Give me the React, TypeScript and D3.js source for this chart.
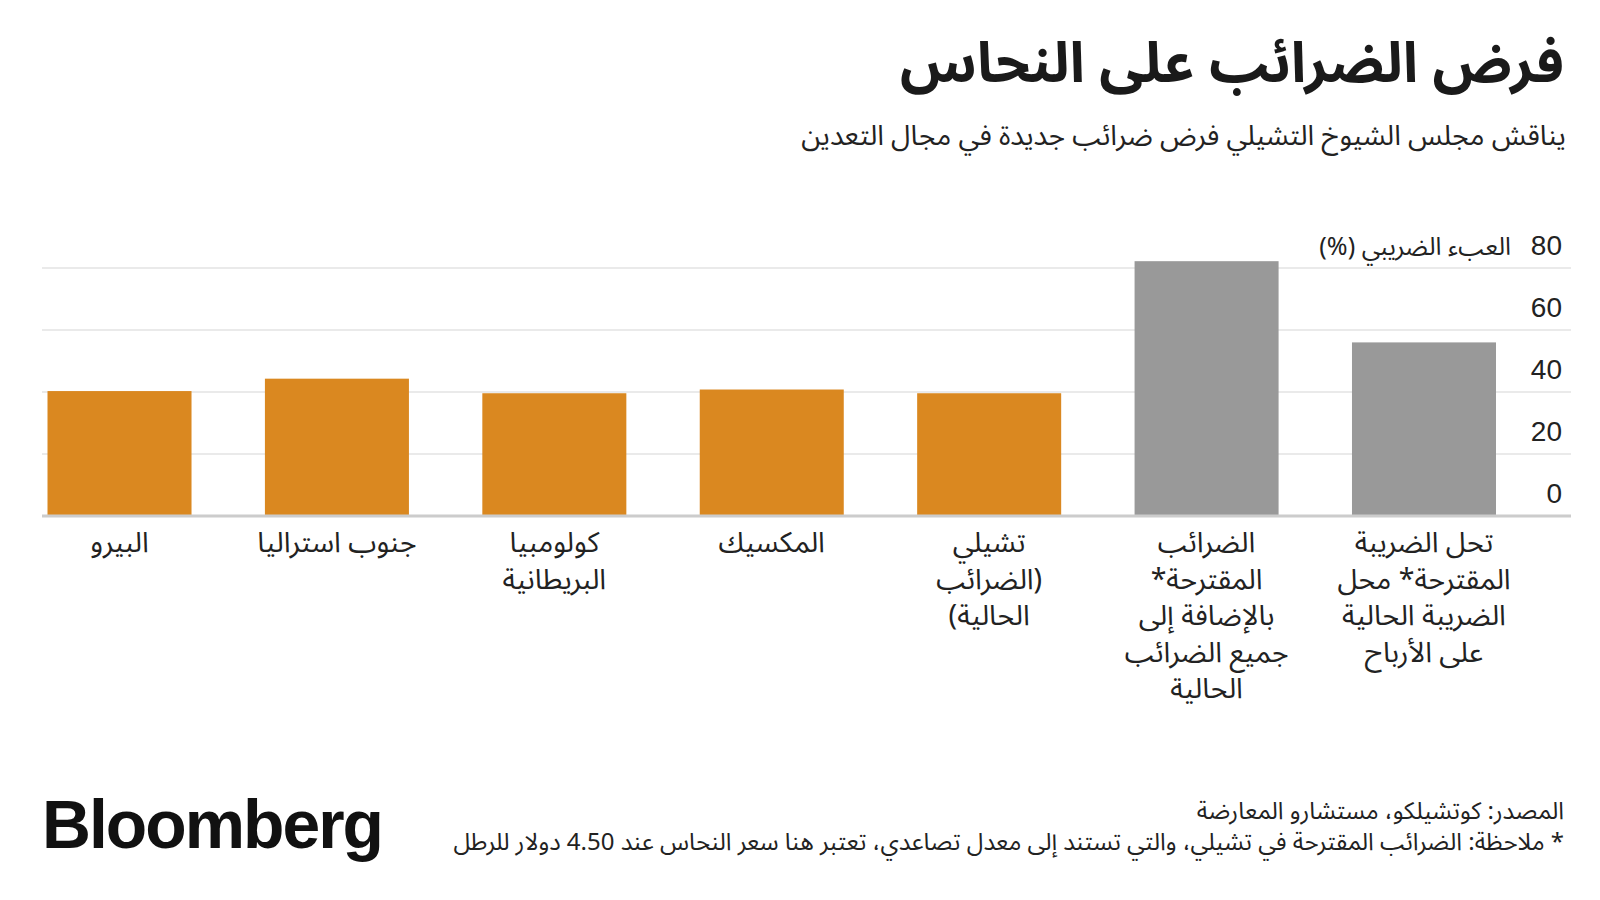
import React from "react";
import * as d3 from "d3";

const categories = [
  "البيرو",
  "جنوب استراليا",
  "كولومبيا البريطانية",
  "المكسيك",
  "تشيلي (الضرائب الحالية)",
  "الضرائب المقترحة* بالإضافة إلى جميع الضرائب الحالية",
  "تحل الضريبة المقترحة* محل الضريبة الحالية على الأرباح",
];
const labelLines = [
  ["البيرو"],
  ["جنوب استراليا"],
  ["كولومبيا", "البريطانية"],
  ["المكسيك"],
  ["تشيلي", "(الضرائب", "الحالية)"],
  ["الضرائب", "المقترحة*", "بالإضافة إلى", "جميع الضرائب", "الحالية"],
  ["تحل الضريبة", "المقترحة* محل", "الضريبة الحالية", "على الأرباح"],
];
const values = [40.3, 44.3, 39.6, 40.8, 39.6, 82.2, 56.0];
const proposed = [false, false, false, false, false, true, true];
const yTicks = [0, 20, 40, 60, 80];

const title = "فرض الضرائب على النحاس";
const subtitle = "يناقش مجلس الشيوخ التشيلي فرض ضرائب جديدة في مجال التعدين";
const axisTitle = "العبء الضريبي (%)";
const source = "المصدر: كوتشيلكو، مستشارو المعارضة";
const note = "* ملاحظة: الضرائب المقترحة في تشيلي، والتي تستند إلى معدل تصاعدي، تعتبر هنا سعر النحاس عند 4.50 دولار للرطل";

const W = 1600;
const H = 900;
const AR = "'Noto Sans Arabic', 'DejaVu Sans', sans-serif";
const LAT = "'Liberation Sans', Arial, Helvetica, sans-serif";

export default function App() {
  const x = d3
    .scaleBand<string>()
    .domain(categories)
    .range([47.5, 1496])
    .paddingInner(0.3376)
    .paddingOuter(0);
  const y = d3.scaleLinear().domain([0, 80]).range([516, 268]);
  const gridX0 = 42;
  const gridX1 = 1571;

  return (
    <svg
      width={W}
      height={H}
      viewBox={`0 0 ${W} ${H}`}
      style={{ position: "absolute", left: 0, top: 0, background: "#fff" }}
    >
      <rect x={0} y={0} width={W} height={H} fill="#fff" />
      {/* Title */}
      <text
        x={1564}
        y={82}
        direction="rtl"
        textAnchor="start"
        fontFamily={AR}
        fontWeight="bold"
        fontSize={56}
        fill="#1a1a1a"
      >
        {title}
      </text>
      <text
        x={1566}
        y={145}
        direction="rtl"
        textAnchor="start"
        fontFamily={AR}
        fontSize={28}
        fill="#222"
      >
        {subtitle}
      </text>

      {/* Gridlines */}
      {yTicks
        .filter((t) => t !== 0)
        .map((t) => (
          <line
            key={t}
            x1={gridX0}
            x2={gridX1}
            y1={y(t)}
            y2={y(t)}
            stroke="#e3e3e3"
            strokeWidth={1.5}
          />
        ))}

      {/* Bars */}
      {categories.map((c, i) => (
        <rect
          key={c}
          x={x(c)}
          y={y(values[i])}
          width={x.bandwidth()}
          height={y(0) - y(values[i])}
          fill={proposed[i] ? "#999999" : "#DA8820"}
        />
      ))}

      {/* Baseline */}
      <line
        x1={gridX0}
        x2={gridX1}
        y1={y(0)}
        y2={y(0)}
        stroke="#cccccc"
        strokeWidth={3}
      />

      {/* Tick labels */}
      {yTicks.map((t) => (
        <text
          key={t}
          x={1562}
          y={y(t) - 13}
          textAnchor="end"
          fontFamily={LAT}
          fontSize={28}
          fill="#222"
        >
          {t}
        </text>
      ))}
      <text
        x={1511}
        y={y(80) - 13}
        direction="rtl"
        textAnchor="start"
        fontFamily={AR}
        fontSize={25}
        fill="#222"
      >
        {axisTitle}
      </text>

      {/* Category labels */}
      {categories.map((c, i) => (
        <text
          key={c}
          x={(x(c) as number) + x.bandwidth() / 2}
          y={552}
          direction="rtl"
          textAnchor="middle"
          fontFamily={AR}
          fontSize={28.5}
          fill="#222"
        >
          {labelLines[i].map((ln, j) => (
            <tspan key={j} x={(x(c) as number) + x.bandwidth() / 2} y={552 + j * 36.6}>
              {ln}
            </tspan>
          ))}
        </text>
      ))}

      {/* Footer */}
      <text
        x={1564}
        y={819}
        direction="rtl"
        textAnchor="start"
        fontFamily={AR}
        fontSize={24}
        fill="#222"
      >
        {source}
      </text>
      <text
        x={1564}
        y={850}
        direction="rtl"
        textAnchor="start"
        fontFamily={AR}
        fontSize={24}
        fill="#222"
      >
        {note}
      </text>

      <text
        x={42}
        y={848}
        fontFamily={LAT}
        fontWeight="bold"
        fontSize={68}
        letterSpacing={-2}
        textLength={340}
        lengthAdjust="spacingAndGlyphs"
        fill="#111"
      >
        Bloomberg
      </text>
    </svg>
  );
}
